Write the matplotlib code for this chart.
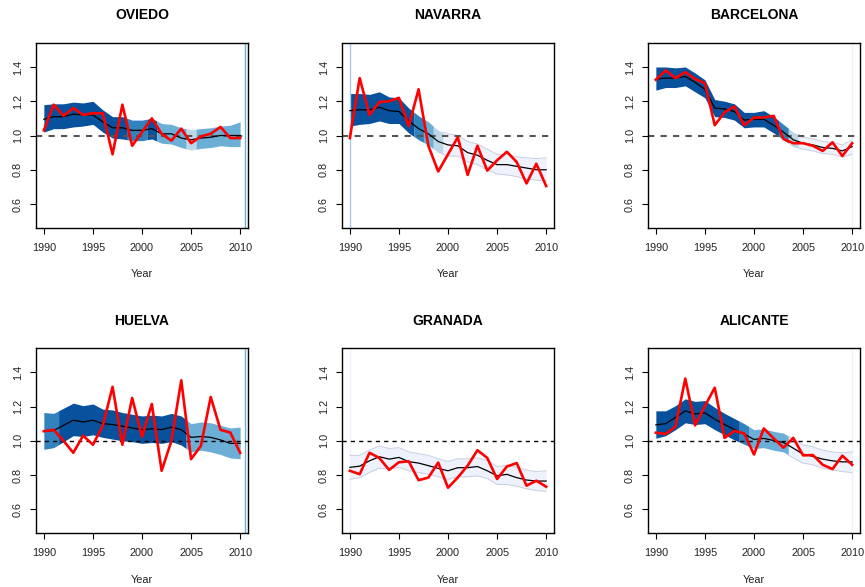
import matplotlib
matplotlib.use('Agg')
import matplotlib.pyplot as plt
import numpy as np

plt.rcParams['font.family'] = ['Liberation Sans', 'DejaVu Sans']

years = np.arange(1990, 2011)

regions = ['OVIEDO', 'NAVARRA', 'BARCELONA', 'HUELVA', 'GRANADA', 'ALICANTE']

# observed ratio (red), median (black), band upper/lower, band shade class
oviedo_obs = [1.03, 1.18, 1.115, 1.16, 1.12, 1.13, 1.13, 0.89, 1.18, 0.94, 1.02,
              1.10, 1.01, 0.97, 1.04, 0.955, 0.995, 1.01, 1.05, 0.985, 0.985]
oviedo_med = [1.095, 1.11, 1.11, 1.125, 1.12, 1.12, 1.08, 1.045, 1.045, 1.03, 1.03,
              1.04, 1.01, 1.01, 0.985, 0.975, 0.985, 0.99, 1.0, 1.0, 1.0]
oviedo_hi = [1.18, 1.185, 1.185, 1.195, 1.19, 1.20, 1.15, 1.11, 1.11, 1.09, 1.09,
             1.10, 1.07, 1.065, 1.045, 1.035, 1.04, 1.045, 1.055, 1.06, 1.08]
oviedo_lo = [1.02, 1.04, 1.04, 1.05, 1.055, 1.065, 1.02, 0.985, 0.98, 0.97, 0.97,
             0.98, 0.955, 0.95, 0.93, 0.915, 0.925, 0.93, 0.94, 0.935, 0.935]
oviedo_cls = [4, 4, 4, 4, 4, 4, 4, 4, 4, 3, 3, 4, 2, 2, 2, 1, 2, 2, 2, 2, 2]

navarra_obs = [0.985, 1.335, 1.12, 1.195, 1.20, 1.22, 1.055, 1.27, 0.94, 0.79, 0.89,
               0.99, 0.77, 0.94, 0.795, 0.855, 0.905, 0.845, 0.72, 0.835, 0.705]
navarra_med = [1.145, 1.15, 1.15, 1.165, 1.145, 1.14, 1.085, 1.04, 1.01, 0.965, 0.945,
               0.94, 0.90, 0.885, 0.855, 0.83, 0.83, 0.82, 0.81, 0.80, 0.80]
navarra_hi = [1.245, 1.245, 1.24, 1.255, 1.225, 1.22, 1.16, 1.115, 1.08, 1.03, 1.01,
              1.0, 0.965, 0.95, 0.92, 0.89, 0.89, 0.875, 0.87, 0.865, 0.87]
navarra_lo = [1.055, 1.065, 1.07, 1.085, 1.07, 1.07, 1.015, 0.975, 0.945, 0.90, 0.88,
              0.88, 0.845, 0.83, 0.80, 0.775, 0.77, 0.76, 0.745, 0.74, 0.735]
navarra_cls = [4, 4, 4, 4, 4, 4, 4, 3, 2, 1, 0, 0, 0, 0, 0, 0, 0, 0, 0, 0, 0]

barcelona_obs = [1.325, 1.38, 1.335, 1.37, 1.33, 1.305, 1.06, 1.135, 1.17, 1.06, 1.105,
                 1.105, 1.115, 0.98, 0.955, 0.955, 0.94, 0.91, 0.96, 0.88, 0.955]
barcelona_med = [1.33, 1.335, 1.335, 1.345, 1.31, 1.27, 1.16, 1.155, 1.14, 1.09, 1.095,
                 1.095, 1.06, 1.02, 0.975, 0.955, 0.945, 0.93, 0.925, 0.91, 0.935]
barcelona_hi = [1.40, 1.40, 1.395, 1.40, 1.365, 1.325, 1.21, 1.20, 1.185, 1.135, 1.135,
                1.145, 1.11, 1.065, 1.02, 0.99, 0.98, 0.965, 0.96, 0.945, 0.975]
barcelona_lo = [1.265, 1.28, 1.28, 1.29, 1.255, 1.22, 1.11, 1.105, 1.09, 1.045, 1.05,
                1.05, 1.015, 0.975, 0.935, 0.92, 0.91, 0.895, 0.89, 0.875, 0.89]
barcelona_cls = [4, 4, 4, 4, 4, 4, 4, 4, 4, 4, 4, 4, 4, 3, 1, 0, 0, 0, 0, 0, 0]

huelva_obs = [1.056, 1.064, 1.0, 0.93, 1.03, 0.977, 1.087, 1.315, 0.977, 1.25, 1.023,
              1.215, 0.825, 1.0, 1.353, 0.893, 0.97, 1.256, 1.064, 1.048, 0.93]
huelva_med = [1.055, 1.06, 1.09, 1.12, 1.11, 1.12, 1.10, 1.095, 1.085, 1.075, 1.065,
              1.07, 1.065, 1.08, 1.065, 1.02, 1.025, 1.02, 1.005, 0.985, 0.985]
huelva_hi = [1.165, 1.16, 1.19, 1.22, 1.205, 1.215, 1.185, 1.18, 1.165, 1.155, 1.145,
             1.15, 1.145, 1.16, 1.145, 1.10, 1.11, 1.105, 1.09, 1.075, 1.08]
huelva_lo = [0.95, 0.96, 0.995, 1.03, 1.025, 1.035, 1.02, 1.01, 1.0, 0.995, 0.985,
             0.99, 0.985, 0.995, 0.975, 0.935, 0.945, 0.935, 0.92, 0.90, 0.895]
huelva_cls = [3, 3, 4, 4, 4, 4, 4, 4, 4, 4, 4, 4, 4, 4, 4, 2, 2, 2, 2, 2, 2]

granada_obs = [0.825, 0.805, 0.93, 0.90, 0.83, 0.875, 0.88, 0.77, 0.785, 0.873, 0.726,
               0.786, 0.855, 0.945, 0.90, 0.777, 0.85, 0.87, 0.738, 0.767, 0.732]
granada_med = [0.845, 0.852, 0.883, 0.907, 0.893, 0.903, 0.878, 0.87, 0.855, 0.839, 0.825,
               0.843, 0.843, 0.85, 0.825, 0.796, 0.804, 0.785, 0.771, 0.765, 0.765]
granada_hi = [0.915, 0.915, 0.945, 0.97, 0.955, 0.96, 0.935, 0.925, 0.915, 0.895, 0.88,
              0.895, 0.895, 0.90, 0.885, 0.85, 0.855, 0.845, 0.83, 0.82, 0.825]
granada_lo = [0.775, 0.785, 0.815, 0.84, 0.835, 0.845, 0.825, 0.815, 0.805, 0.79, 0.775,
              0.79, 0.79, 0.795, 0.78, 0.745, 0.745, 0.735, 0.72, 0.71, 0.705]
granada_cls = [0] * 21

alicante_obs = [1.047, 1.04, 1.083, 1.363, 1.09, 1.203, 1.31, 1.017, 1.058, 1.043, 0.92,
                1.072, 1.014, 0.96, 1.017, 0.915, 0.917, 0.86, 0.835, 0.913, 0.86]
alicante_med = [1.093, 1.10, 1.136, 1.175, 1.157, 1.163, 1.126, 1.095, 1.066, 1.039, 1.008,
                1.014, 1.002, 0.99, 0.957, 0.922, 0.909, 0.893, 0.883, 0.877, 0.877]
alicante_hi = [1.175, 1.175, 1.205, 1.245, 1.23, 1.235, 1.195, 1.16, 1.13, 1.10, 1.065,
               1.07, 1.055, 1.045, 1.01, 0.975, 0.965, 0.945, 0.935, 0.93, 0.935]
alicante_lo = [1.015, 1.03, 1.065, 1.105, 1.095, 1.10, 1.065, 1.035, 1.005, 0.98, 0.955,
               0.96, 0.945, 0.935, 0.90, 0.87, 0.86, 0.84, 0.83, 0.82, 0.815]
alicante_cls = [4, 4, 4, 4, 4, 4, 4, 4, 4, 3, 2, 2, 2, 2, 0, 0, 0, 0, 0, 0, 0]

# year of the thin vertical mark seen in each panel, and its shade class
vmark_year = [2010.5, 1990, 2010, 2010.5, 1990, 2010]
vmark_cls = [2, 1, 0, 2, 0, 0]

BLUES = ['#eef2fd', '#bdd7e7', '#6baed6', '#3182bd', '#08519c']
EDGE = '#c8cee0'

data = {
    'OVIEDO': (oviedo_obs, oviedo_med, oviedo_hi, oviedo_lo, oviedo_cls),
    'NAVARRA': (navarra_obs, navarra_med, navarra_hi, navarra_lo, navarra_cls),
    'BARCELONA': (barcelona_obs, barcelona_med, barcelona_hi, barcelona_lo, barcelona_cls),
    'HUELVA': (huelva_obs, huelva_med, huelva_hi, huelva_lo, huelva_cls),
    'GRANADA': (granada_obs, granada_med, granada_hi, granada_lo, granada_cls),
    'ALICANTE': (alicante_obs, alicante_med, alicante_hi, alicante_lo, alicante_cls),
}

fig = plt.figure(figsize=(8.65, 5.87), dpi=100)
lefts = [36 / 865, 342 / 865, 648 / 865]
bottoms = [1 - 228 / 587, 1 - 533.3 / 587]
w, h = 212 / 865, 185 / 587


def draw_band(ax, hi, lo, cls):
    hi = np.asarray(hi)
    lo = np.asarray(lo)
    # group consecutive years sharing a shade
    runs = []
    start = 0
    for i in range(1, len(cls) + 1):
        if i == len(cls) or cls[i] != cls[start]:
            runs.append((start, i - 1, cls[start]))
            start = i
    for s, e, c in runs:
        a = max(years[0], years[s] - 0.5)
        b = min(years[-1], years[e] + 0.5)
        xs = [a] + [y for y in years[s:e + 1] if a < y < b] + [b]
        xs = np.array(xs, dtype=float)
        up = np.interp(xs, years, hi)
        dn = np.interp(xs, years, lo)
        ax.fill_between(xs, dn, up, color=BLUES[c], lw=0, zorder=1)
        if c == 0:
            ax.plot(xs, up, color=EDGE, lw=0.7, zorder=1.5)
            ax.plot(xs, dn, color=EDGE, lw=0.7, zorder=1.5)


for k, name in enumerate(regions):
    row, col = divmod(k, 3)
    ax = fig.add_axes([lefts[col], bottoms[row], w, h])
    obs, med, hi, lo, cls = data[name]

    draw_band(ax, hi, lo, cls)
    vcol = '#a9c9e6' if vmark_cls[k] == 1 else BLUES[vmark_cls[k]]
    ax.axvline(vmark_year[k], color=vcol, lw=1.0, zorder=1)

    if row == 0:
        ax.axhline(1.0, color='#555555', lw=1.5, dashes=(3, 3), zorder=2)
    else:
        ax.axhline(1.0, color='black', lw=1.0, dashes=(3, 3), zorder=2)

    ax.plot(years, med, color='black', lw=0.9, zorder=3)
    ax.plot(years, obs, color='#ff0000', lw=1.9, zorder=4)

    ax.set_xlim(1989.2, 2010.8)
    ax.set_ylim(0.46, 1.54)
    ax.set_xticks([1990, 1995, 2000, 2005, 2010])
    ax.set_yticks([0.6, 0.8, 1.0, 1.2, 1.4])
    ax.set_yticklabels(['0.6', '0.8', '1.0', '1.2', '1.4'], rotation=90, va='center')
    ax.tick_params(direction='out', length=4.5, width=0.8, labelsize=7.8,
                   colors='black', labelcolor='#222222')
    ax.tick_params(axis='x', pad=6)
    ax.tick_params(axis='y', pad=5)
    for sp in ax.spines.values():
        sp.set_linewidth(1.0)
    ax.set_xlabel('Year', fontsize=7.8, color='#222222', labelpad=12)
    ax.set_title(name, fontsize=10, fontweight='bold', pad=17)

fig.savefig('out.png', dpi=100)
